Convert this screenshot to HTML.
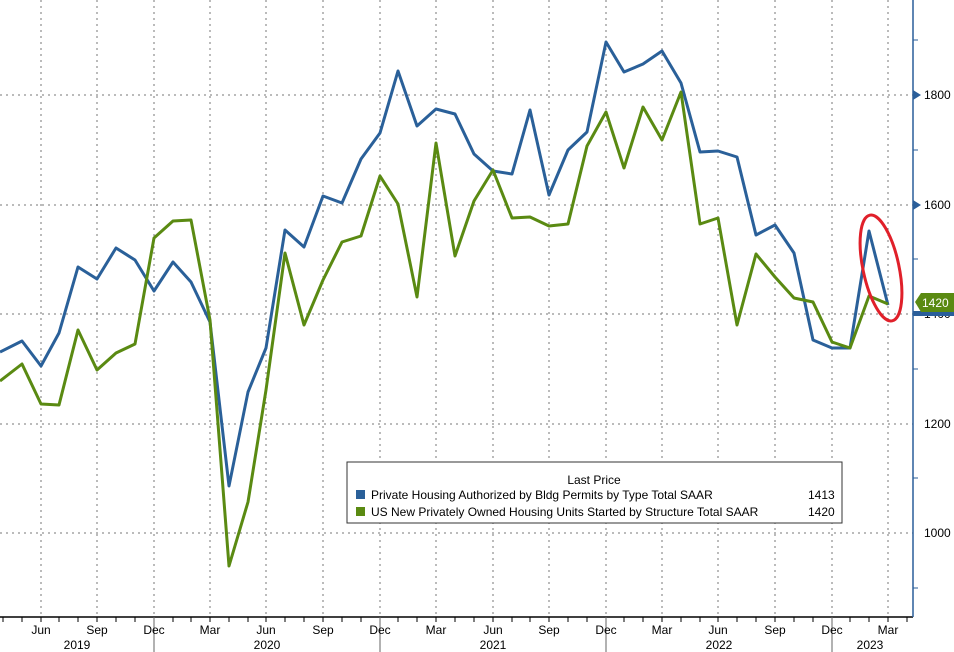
<!DOCTYPE html><html><head><style>body{margin:0;background:#fff;}svg{display:block;font-family:"Liberation Sans",sans-serif;}</style></head><body>
<svg width="954" height="652" viewBox="0 0 954 652">
<g stroke="#777" stroke-dasharray="2,4" stroke-width="1">
<line x1="0" y1="95" x2="913" y2="95"/><line x1="0" y1="205" x2="913" y2="205"/><line x1="0" y1="314" x2="913" y2="314"/><line x1="0" y1="424" x2="913" y2="424"/><line x1="0" y1="533" x2="913" y2="533"/>
<line x1="41" y1="0" x2="41" y2="617"/><line x1="97" y1="0" x2="97" y2="617"/><line x1="154" y1="0" x2="154" y2="617"/><line x1="210" y1="0" x2="210" y2="617"/><line x1="266" y1="0" x2="266" y2="617"/><line x1="323" y1="0" x2="323" y2="617"/><line x1="380" y1="0" x2="380" y2="617"/><line x1="436" y1="0" x2="436" y2="617"/><line x1="493" y1="0" x2="493" y2="617"/><line x1="549" y1="0" x2="549" y2="617"/><line x1="606" y1="0" x2="606" y2="617"/><line x1="662" y1="0" x2="662" y2="617"/><line x1="718" y1="0" x2="718" y2="617"/><line x1="775" y1="0" x2="775" y2="617"/><line x1="832" y1="0" x2="832" y2="617"/><line x1="888" y1="0" x2="888" y2="617"/>
</g>
<line x1="0" y1="617" x2="913" y2="617" stroke="#000" stroke-width="1.5"/>
<line x1="913" y1="0" x2="913" y2="617" stroke="#2a5e9a" stroke-width="1.5"/>
<g stroke="#000"><path d="M3 617v5M22 617v5M41 617v5M59 617v5M78 617v5M97 617v5M116 617v5M135 617v5M154 617v5M173 617v5M191 617v5M210 617v5M229 617v5M248 617v5M266 617v5M285 617v5M304 617v5M323 617v5M342 617v5M361 617v5M380 617v5M398 617v5M417 617v5M436 617v5M455 617v5M474 617v5M493 617v5M512 617v5M530 617v5M549 617v5M568 617v5M587 617v5M606 617v5M624 617v5M643 617v5M662 617v5M681 617v5M700 617v5M718 617v5M737 617v5M756 617v5M775 617v5M794 617v5M813 617v5M832 617v5M850 617v5M869 617v5M888 617v5M907 617v5"/></g>
<g stroke="#666"><line x1="154" y1="617" x2="154" y2="652"/><line x1="380" y1="617" x2="380" y2="652"/><line x1="606" y1="617" x2="606" y2="652"/><line x1="832" y1="617" x2="832" y2="652"/></g>
<g stroke="#2a5e9a"><path d="M913 40h5M913 150h5M913 259h5M913 369h5M913 478h5M913 588h5"/></g>
<g font-size="12" fill="#000" text-anchor="middle">
<text x="41" y="634">Jun</text><text x="97" y="634">Sep</text><text x="154" y="634">Dec</text><text x="210" y="634">Mar</text><text x="266" y="634">Jun</text><text x="323" y="634">Sep</text><text x="380" y="634">Dec</text><text x="436" y="634">Mar</text><text x="493" y="634">Jun</text><text x="549" y="634">Sep</text><text x="606" y="634">Dec</text><text x="662" y="634">Mar</text><text x="718" y="634">Jun</text><text x="775" y="634">Sep</text><text x="832" y="634">Dec</text><text x="888" y="634">Mar</text>
<text x="77" y="649">2019</text><text x="267" y="649">2020</text><text x="493" y="649">2021</text><text x="719" y="649">2022</text><text x="870" y="649">2023</text>
</g>
<g font-size="12" fill="#000">
<text x="924" y="99">1800</text><text x="924" y="209">1600</text><text x="924" y="318">1400</text><text x="924" y="428">1200</text><text x="924" y="537">1000</text>
</g>
<g fill="#2a5e9a"><path d="M913 90l8 5-8 5zM913 200l8 5-8 5z"/></g>
<rect x="913" y="311" width="41" height="5" fill="#2a5e9a"/>
<polyline fill="none" stroke="#2a6099" stroke-width="3" stroke-linejoin="round" points="0,352 22,341 41,366 59,333 78,267 97,279 116,248 135,260 154,291 173,262 191,282 210,322 229,486 248,392 266,348 285,230 304,247 323,196 342,203 361,159 380,133 398,71 417,126 436,109 455,114 474,154 493,171 512,174 530,110 549,195 568,150 587,132 606,42 624,72 643,64 662,51 681,83 700,152 718,151 737,157 756,235 775,225 794,253 813,340 832,348 850,348 869,231 888,305"/>
<polyline fill="none" stroke="#5a8a12" stroke-width="3" stroke-linejoin="round" points="0,381 22,364 41,404 59,405 78,330 97,370 116,353 135,344 154,238 173,221 191,220 210,320 229,566 248,502 266,390 285,253 304,325 323,280 342,242 361,236 380,176 398,204 417,297 436,143 455,256 474,201 493,170 512,218 530,217 549,226 568,224 587,146 606,112 624,168 643,107 662,140 681,92 700,224 718,218 737,325 756,254 775,277 794,298 813,302 832,342 850,348 869,296 888,304"/>
<ellipse cx="881" cy="268" rx="18" ry="54" transform="rotate(-12 881 268)" fill="none" stroke="#e0202a" stroke-width="3"/>
<path d="M915 302l6-9h33v19h-33z" fill="#5a8a12"/>
<text x="922" y="307" font-size="12" fill="#fff">1420</text>
<rect x="347" y="462" width="495" height="61" fill="#fff" stroke="#333" stroke-width="1"/>
<text x="594" y="484" font-size="12" text-anchor="middle">Last Price</text>
<rect x="356" y="490" width="9" height="9" fill="#2a6099"/><rect x="356" y="507" width="9" height="9" fill="#5a8a12"/>
<g font-size="12"><text x="371" y="499">Private Housing Authorized by Bldg Permits by Type Total SAAR</text><text x="808" y="499">1413</text>
<text x="371" y="516">US New Privately Owned Housing Units Started by Structure Total SAAR</text><text x="808" y="516">1420</text></g>
</svg></body></html>
